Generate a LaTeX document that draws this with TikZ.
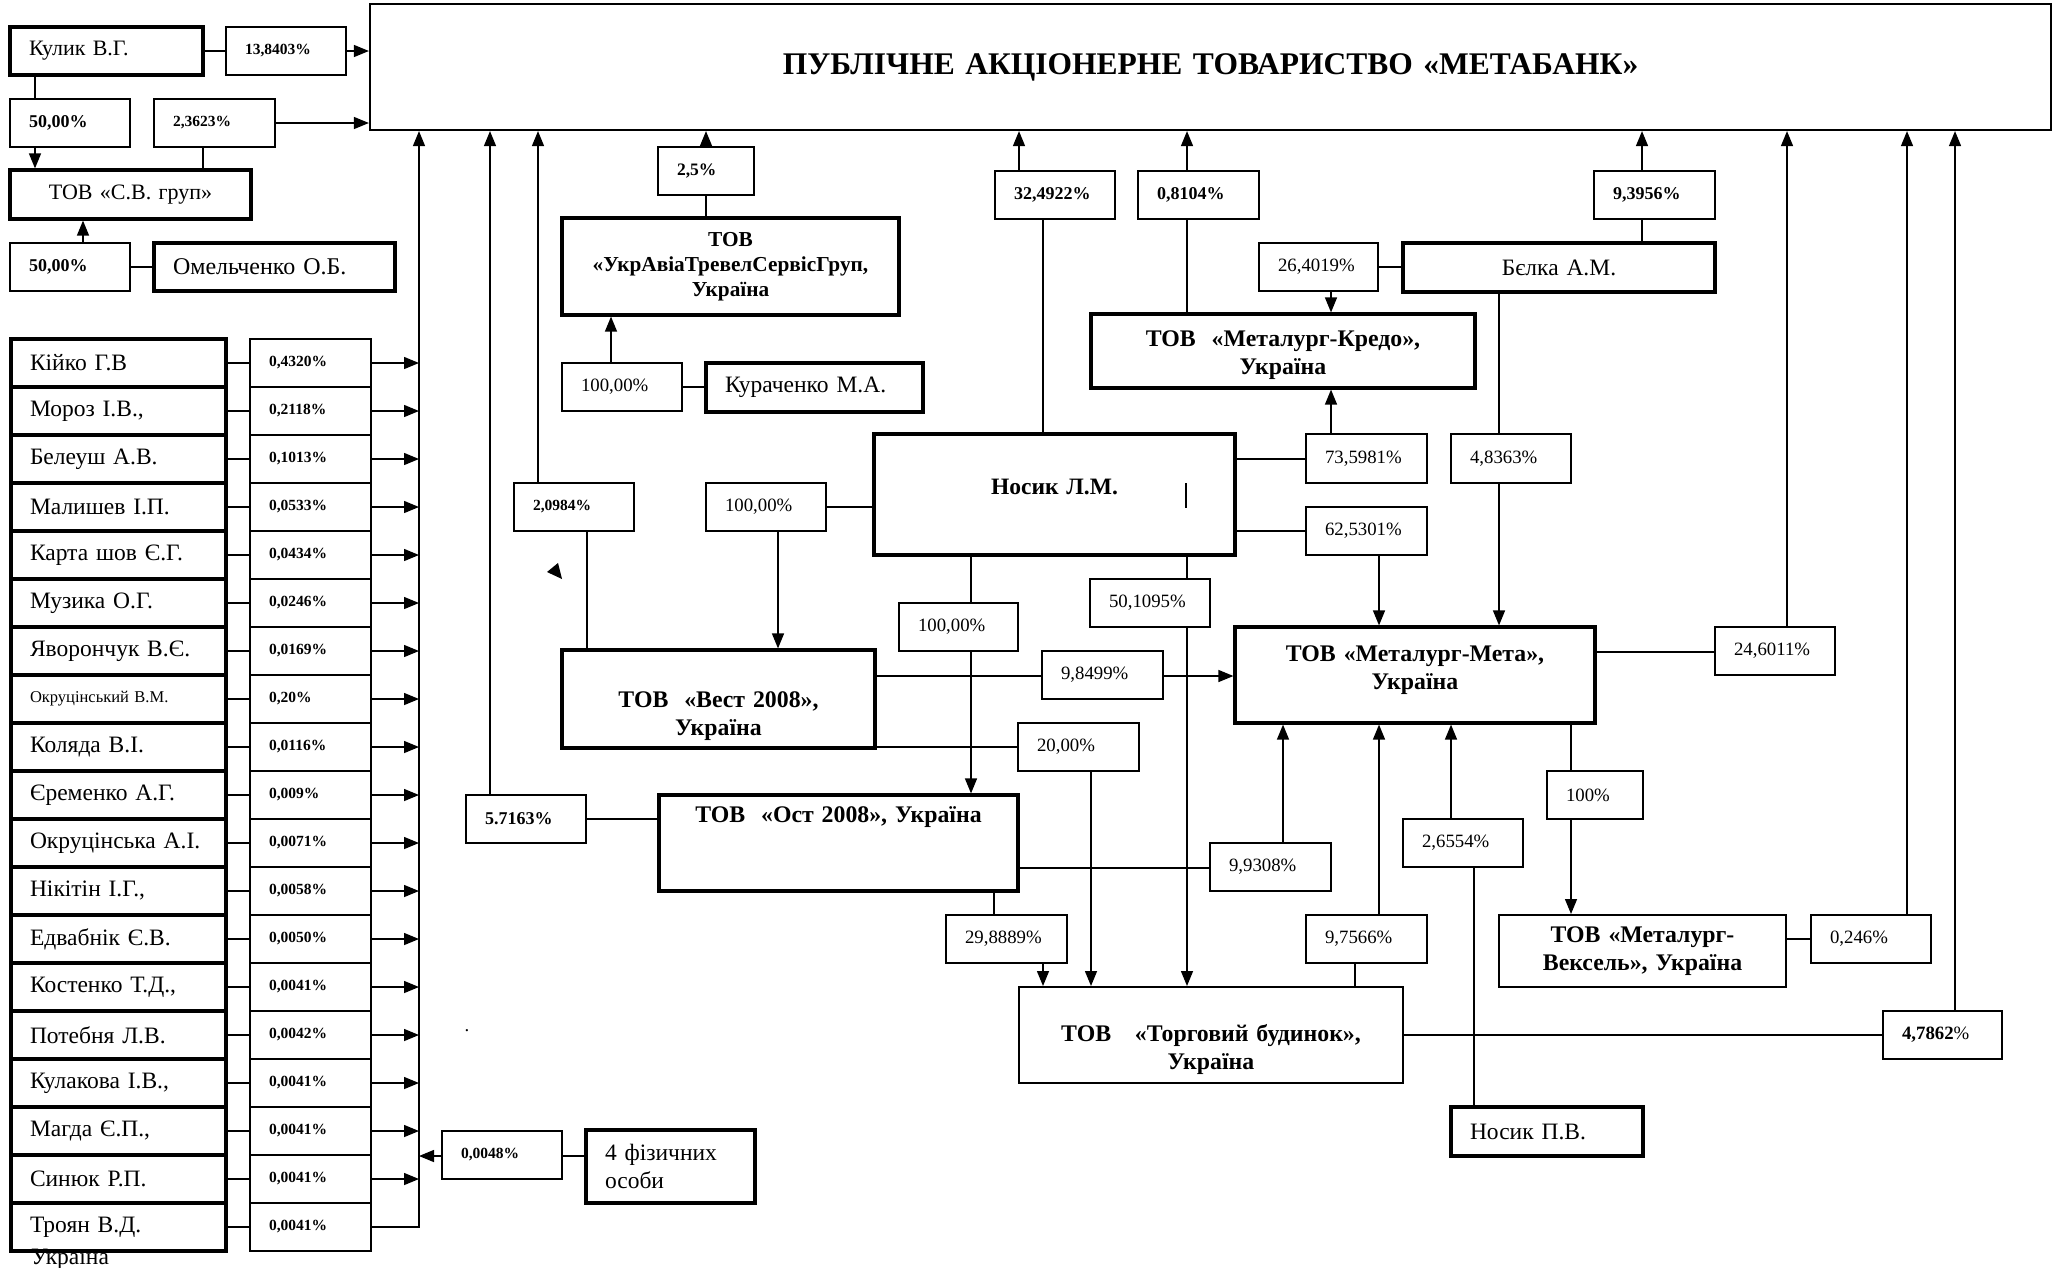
\documentclass[tikz,border=0pt]{standalone}
\usepackage{fontspec}
\setmainfont{Liberation Serif}
\usetikzlibrary{arrows.meta}
\newcommand\fN{\fontsize{23.5}{28}\selectfont}
\newcommand\fK{\fontsize{22}{26}\selectfont}
\newcommand\fO{\fontsize{24}{28}\selectfont}
\newcommand\fS{\fontsize{16.5}{20}\selectfont}
\newcommand\fNB{\fontsize{23.5}{28}\selectfont\bfseries}
\newcommand\fPb{\fontsize{15.5}{18}\selectfont\bfseries}
\newcommand\fPB{\fontsize{18}{21}\selectfont\bfseries}
\newcommand\fPBs{\fontsize{17.5}{21}\selectfont\bfseries}
\newcommand\fP{\fontsize{18.8}{22}\selectfont}
\newcommand\fT{\fontsize{23.8}{28}\selectfont\bfseries}
\newcommand\fU{\fontsize{21.3}{25}\selectfont\bfseries}
\newcommand\fMain{\fontsize{31.5}{36}\selectfont\bfseries}
% name, style, x1, y1, x2, y2, text
\newcommand\BX[7]{%
 \pgfmathsetmacro\bxw{#5-#3}\pgfmathsetmacro\bxh{#6-#4}\pgfmathsetmacro\bxt{#5-#3-38}%
 \pgfmathsetmacro\bxx{(#3+#5)/2}\pgfmathsetmacro\bxy{(#4+#6)/2}%
 \node[#2, minimum width=\bxw pt, minimum height=\bxh pt, text width=\bxt pt] (#1) at (\bxx,\bxy) {#7};}
\tikzset{
 box/.style={draw, fill=white, line width=1.5pt, inner xsep=19pt, inner ysep=0pt},
 tbox/.style={box, line width=3.2pt},
 lft/.style={align=left},
 ctr/.style={align=center},
 conn/.style={line width=1.4pt},
 arr/.style={conn, -{Triangle[length=15pt,width=12pt]}},
}
\begin{document}
\begin{tikzpicture}[x=1pt,y=-1pt]
\useasboundingbox (0,0) rectangle (2060,1267);
% ---------- main
\BX{main}{box,line width=2.2pt,ctr,font=\fMain}{370}{4}{2051}{130}{ПУБЛІЧНЕ АКЦІОНЕРНЕ ТОВАРИСТВО «МЕТАБАНК»}
% ---------- top left
\BX{kulyk}{tbox,lft,font=\fK}{10}{27}{203}{75}{Кулик В.Г.}
\BX{q1}{box,lft,font=\fPb}{226}{27}{346}{75}{13,8403\%}
\BX{q2}{box,lft,font=\fPB}{10}{99}{130}{147}{50,00\%}
\BX{q3}{box,lft,font=\fPb}{154}{99}{275}{147}{2,3623\%}
\BX{sv}{tbox,ctr,font=\fK}{10}{170}{251}{219}{ТОВ «С.В. груп»}
\BX{q4}{box,lft,font=\fPB}{10}{243}{130}{291}{50,00\%}
\BX{omel}{tbox,lft,font=\fO}{154}{243}{395}{291}{Омельченко О.Б.}
% ---------- left column
\BX{ln0}{tbox,lft,font=\fN}{11}{339}{226}{387}{Кійко Г.В}
\BX{ln1}{tbox,lft,font=\fN}{11}{387}{226}{435}{Мороз І.В.,}
\BX{ln2}{tbox,lft,font=\fN}{11}{435}{226}{483}{Белеуш А.В.}
\BX{ln3}{tbox,lft,font=\fN}{11}{483}{226}{531}{Малишев І.П.}
\BX{ln4}{tbox,lft,font=\fN}{11}{531}{226}{579}{Карта шов Є.Г.}
\BX{ln5}{tbox,lft,font=\fN}{11}{579}{226}{627}{Музика О.Г.}
\BX{ln6}{tbox,lft,font=\fN}{11}{627}{226}{675}{Яворончук В.Є.}
\BX{ln7}{tbox,lft,font=\fS}{11}{675}{226}{723}{Окруцінський В.М.}
\BX{ln8}{tbox,lft,font=\fN}{11}{723}{226}{771}{Коляда В.І.}
\BX{ln9}{tbox,lft,font=\fN}{11}{771}{226}{819}{Єременко А.Г.}
\BX{ln10}{tbox,lft,font=\fN}{11}{819}{226}{867}{Окруцінська А.І.}
\BX{ln11}{tbox,lft,font=\fN}{11}{867}{226}{915}{Нікітін І.Г.,}
\BX{ln12}{tbox,lft,font=\fN}{11}{915}{226}{963}{Едвабнік Є.В.}
\BX{ln13}{tbox,lft,font=\fN}{11}{963}{226}{1011}{Костенко Т.Д.,}
\BX{ln14}{tbox,lft,font=\fN}{11}{1011}{226}{1059}{Потебня Л.В.}
\BX{ln15}{tbox,lft,font=\fN}{11}{1059}{226}{1107}{Кулакова І.В.,}
\BX{ln16}{tbox,lft,font=\fN}{11}{1107}{226}{1155}{Магда Є.П.,}
\BX{ln17}{tbox,lft,font=\fN}{11}{1155}{226}{1203}{Синюк Р.П.}
\BX{ln18}{tbox,lft,font=\fN}{11}{1203}{226}{1251}{Троян В.Д.}
\node[font=\fN, anchor=west, inner sep=0pt] (ukrT) at (31,1259) {Україна};
\BX{lp0}{box,lft,font=\fPb}{250}{339}{371}{387}{0,4320\%}
\BX{lp1}{box,lft,font=\fPb}{250}{387}{371}{435}{0,2118\%}
\BX{lp2}{box,lft,font=\fPb}{250}{435}{371}{483}{0,1013\%}
\BX{lp3}{box,lft,font=\fPb}{250}{483}{371}{531}{0,0533\%}
\BX{lp4}{box,lft,font=\fPb}{250}{531}{371}{579}{0,0434\%}
\BX{lp5}{box,lft,font=\fPb}{250}{579}{371}{627}{0,0246\%}
\BX{lp6}{box,lft,font=\fPb}{250}{627}{371}{675}{0,0169\%}
\BX{lp7}{box,lft,font=\fPb}{250}{675}{371}{723}{0,20\%}
\BX{lp8}{box,lft,font=\fPb}{250}{723}{371}{771}{0,0116\%}
\BX{lp9}{box,lft,font=\fPb}{250}{771}{371}{819}{0,009\%}
\BX{lp10}{box,lft,font=\fPb}{250}{819}{371}{867}{0,0071\%}
\BX{lp11}{box,lft,font=\fPb}{250}{867}{371}{915}{0,0058\%}
\BX{lp12}{box,lft,font=\fPb}{250}{915}{371}{963}{0,0050\%}
\BX{lp13}{box,lft,font=\fPb}{250}{963}{371}{1011}{0,0041\%}
\BX{lp14}{box,lft,font=\fPb}{250}{1011}{371}{1059}{0,0042\%}
\BX{lp15}{box,lft,font=\fPb}{250}{1059}{371}{1107}{0,0041\%}
\BX{lp16}{box,lft,font=\fPb}{250}{1107}{371}{1155}{0,0041\%}
\BX{lp17}{box,lft,font=\fPb}{250}{1155}{371}{1203}{0,0041\%}
\BX{lp18}{box,lft,font=\fPb}{250}{1203}{371}{1251}{0,0041\%}
% ---------- middle and right
\BX{p25}{box,lft,font=\fPBs}{658}{147}{754}{195}{2,5\%}
\BX{ukr}{tbox,ctr,font=\fU}{562}{218}{899}{315}{ТОВ\\«УкрАвіаТревелСервісГруп,\\Україна}
\BX{p100a}{box,lft,font=\fP}{562}{363}{682}{411}{100,00\%}
\BX{kur}{tbox,lft,font=\fN}{706}{363}{923}{412}{Кураченко М.А.}
\BX{p32}{box,lft,font=\fPB}{995}{171}{1115}{219}{32,4922\%}
\BX{p08}{box,lft,font=\fPB}{1138}{171}{1259}{219}{0,8104\%}
\BX{p93}{box,lft,font=\fPB}{1594}{171}{1715}{219}{9,3956\%}
\BX{p264}{box,lft,font=\fP}{1259}{243}{1378}{291}{26,4019\%}
\BX{belka}{tbox,ctr,font=\fN}{1403}{243}{1715}{292}{Бєлка А.М.}
\BX{kredo}{tbox,ctr,font=\fT}{1091}{314}{1475}{388}{\rule{0pt}{24pt}ТОВ~ «Металург-Кредо»,\\Україна}
\BX{p2098}{box,lft,font=\fPb}{514}{483}{634}{531}{2,0984\%}
\BX{p100b}{box,lft,font=\fP}{706}{483}{826}{531}{100,00\%}
\BX{nosik}{tbox,ctr,font=\fNB}{874}{434}{1235}{555}{Носик Л.М.\rule[-16pt]{0pt}{16pt}}
\BX{p735}{box,lft,font=\fP}{1306}{434}{1427}{483}{73,5981\%}
\BX{p4836}{box,lft,font=\fP}{1451}{434}{1571}{483}{4,8363\%}
\BX{p625}{box,lft,font=\fP}{1306}{507}{1427}{555}{62,5301\%}
\BX{vest}{tbox,ctr,font=\fT}{562}{650}{875}{748}{\rule{0pt}{50pt}ТОВ~ «Вест 2008»,\\Україна}
\BX{p100c}{box,lft,font=\fP}{899}{603}{1018}{651}{100,00\%}
\BX{p501}{box,lft,font=\fP}{1090}{579}{1210}{627}{50,1095\%}
\BX{p98}{box,lft,font=\fP}{1042}{651}{1163}{699}{9,8499\%}
\BX{p20}{box,lft,font=\fP}{1018}{723}{1139}{771}{20,00\%}
\BX{meta}{tbox,ctr,font=\fT}{1235}{627}{1595}{723}{ТОВ «Металург-Мета»,\\Україна\rule[-14pt]{0pt}{14pt}}
\BX{p246}{box,lft,font=\fP}{1715}{627}{1835}{675}{24,6011\%}
\BX{p57}{box,lft,font=\fPB}{466}{795}{586}{843}{5.7163\%}
\BX{ost}{tbox,ctr,font=\fT}{659}{795}{1018}{891}{ТОВ~ «Ост 2008», Україна\\~\\~}
\BX{p993}{box,lft,font=\fP}{1210}{843}{1331}{891}{9,9308\%}
\BX{p2655}{box,lft,font=\fP}{1403}{819}{1523}{867}{2,6554\%}
\BX{p100d}{box,lft,font=\fP}{1547}{771}{1643}{819}{100\%}
\BX{p2988}{box,lft,font=\fP}{946}{915}{1067}{963}{29,8889\%}
\BX{p975}{box,lft,font=\fP}{1306}{915}{1427}{963}{9,7566\%}
\BX{veks}{box,line width=2pt,ctr,font=\fT}{1499}{915}{1786}{987}{ТОВ «Металург-\\Вексель», Україна}
\BX{p0246}{box,lft,font=\fP}{1811}{915}{1931}{963}{0,246\%}
\BX{torg}{box,line width=2pt,ctr,font=\fT}{1019}{987}{1403}{1083}{\rule{0pt}{46pt}ТОВ~~ «Торговий будинок»,\\Україна}
\BX{p4786}{box,lft,font=\fP}{1883}{1011}{2002}{1059}{\textbf{4,7862}\%}
\BX{nosikpv}{tbox,lft,font=\fN}{1451}{1107}{1643}{1156}{Носик П.В.}
\BX{p0048}{box,lft,font=\fPb}{442}{1131}{562}{1179}{0,0048\%}
\BX{fiz}{tbox,lft,font=\fN}{586}{1130}{755}{1203}{4 фізичних\\особи}
\node[font=\fP, inner sep=0pt] (dot) at (467,1031) {.};
% ---------- column / row coordinates
\foreach \c in {35,83,203,419,490,538,587,611,778,971,994,1019,1043,1091,1187,1283,1331,1355,1379,1451,1474,1499,1571,1642,1787,1907,1955}
  {\coordinate (c\c) at (\c,0);}
\foreach \r in {267,387,459,507,531,652,676,747,819,868,939,1035,1156}
  {\coordinate (r\r) at (0,\r);}
% ---------- connectors
\draw[conn] (kulyk.east) -- (q1.west);
\draw[arr] (q1.east) -- (q1.east -| main.west);
\draw[conn] (kulyk.south -| c35) -- (q2.north -| c35);
\draw[arr] (q2.south -| c35) -- (sv.north -| c35);
\draw[conn] (q3.south -| c203) -- (sv.north -| c203);
\draw[arr] (q3.east) -- (q3.east -| main.west);
\draw[arr] (q4.north -| c83) -- (sv.south -| c83);
\draw[conn] (q4.east |- r267) -- (omel.west |- r267);
\foreach \k in {0,...,17} {
  \draw[conn] (ln\k.east) -- (lp\k.west);
  \draw[arr] (lp\k.east) -- (lp\k.east -| c419);
}
\draw[conn] (ln18.east) -- (lp18.west);
\draw[arr] (lp18.east) -| (main.south -| c419);
\draw[conn] (fiz.west |- r1156) -- (p0048.east |- r1156);
\draw[arr] (p0048.west |- r1156) -- (c419 |- r1156);
\draw[arr] (p57.north -| c490) -- (main.south -| c490);
\draw[conn] (p57.east |- r819) -- (ost.west |- r819);
\draw[arr] (p2098.north -| c538) -- (main.south -| c538);
\draw[conn] (p2098.south -| c587) -- (vest.north -| c587);
\draw[arr] (p25.north) -- (p25.north |- main.south);
\draw[conn] (p25.south) -- (p25.south |- ukr.north);
\draw[arr] (p100a.north -| c611) -- (ukr.south -| c611);
\draw[conn] (p100a.east |- r387) -- (kur.west |- r387);
\draw[conn] (p100b.east |- r507) -- (nosik.west |- r507);
\draw[arr] (p100b.south -| c778) -- (vest.north -| c778);
\draw[conn] (nosik.north -| c1043) -- (p32.south -| c1043);
\draw[arr] (p32.north -| c1019) -- (main.south -| c1019);
\draw[arr] (p08.north -| c1187) -- (main.south -| c1187);
\draw[conn] (p08.south -| c1187) -- (kredo.north -| c1187);
\draw[arr] (p93.north -| c1642) -- (main.south -| c1642);
\draw[conn] (p93.south -| c1642) -- (belka.north -| c1642);
\draw[conn] (p264.east |- r267) -- (belka.west |- r267);
\draw[arr] (p264.south -| c1331) -- (kredo.north -| c1331);
\draw[arr] (p735.north -| c1331) -- (kredo.south -| c1331);
\draw[conn] (nosik.east |- r459) -- (p735.west |- r459);
\draw[conn] (nosik.east |- r531) -- (p625.west |- r531);
\draw[arr] (p625.south -| c1379) -- (meta.north -| c1379);
\draw[conn] (belka.south -| c1499) -- (p4836.north -| c1499);
\draw[arr] (p4836.south -| c1499) -- (meta.north -| c1499);
\draw[conn] (nosik.south -| c971) -- (p100c.north -| c971);
\draw[arr] (p100c.south -| c971) -- (ost.north -| c971);
\draw[conn] (nosik.south -| c1187) -- (p501.north -| c1187);
\draw[arr] (p501.south -| c1187) -- (torg.north -| c1187);
\draw[conn] (vest.east |- r676) -- (p98.west |- r676);
\draw[arr] (p98.east |- r676) -- (meta.west |- r676);
\draw[conn] (vest.east |- r747) -- (p20.west |- r747);
\draw[arr] (p20.south -| c1091) -- (torg.north -| c1091);
\draw[conn] (ost.east |- r868) -- (p993.west |- r868);
\draw[arr] (p993.north -| c1283) -- (meta.south -| c1283);
\draw[conn] (ost.south -| c994) -- (p2988.north -| c994);
\draw[arr] (p2988.south -| c1043) -- (torg.north -| c1043);
\draw[conn] (meta.east |- r652) -- (p246.west |- r652);
\draw[arr] (p246.north -| c1787) -- (main.south -| c1787);
\draw[conn] (meta.south -| c1571) -- (p100d.north -| c1571);
\draw[arr] (p100d.south -| c1571) -- (veks.north -| c1571);
\draw[arr] (p975.north -| c1379) -- (meta.south -| c1379);
\draw[conn] (p975.south -| c1355) -- (torg.north -| c1355);
\draw[arr] (p2655.north -| c1451) -- (meta.south -| c1451);
\draw[conn] (p2655.south -| c1474) -- (nosikpv.north -| c1474);
\draw[conn] (veks.east |- r939) -- (p0246.west |- r939);
\draw[arr] (p0246.north -| c1907) -- (main.south -| c1907);
\draw[conn] (torg.east |- r1035) -- (p4786.west |- r1035);
\draw[arr] (p4786.north -| c1955) -- (main.south -| c1955);
% ---------- stray marks
\draw[conn] (1186,483) -- (1186,508);
\fill (547,572) -- (558,563) -- (562,579) -- cycle;
\end{tikzpicture}
\end{document}
